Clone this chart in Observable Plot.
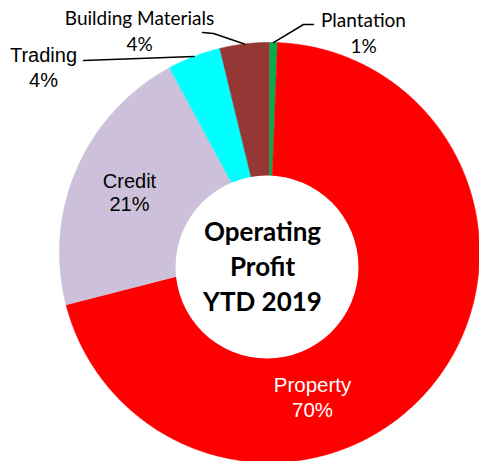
<!DOCTYPE html>
<html><head><meta charset="utf-8">
<script src="https://cdn.jsdelivr.net/npm/d3@7"></script>
<script src="https://cdn.jsdelivr.net/npm/@observablehq/plot@0.6"></script>
<style>html,body{margin:0;padding:0;background:#fff;}#chart{width:479px;height:461px;}</style>
</head><body><div id="chart"></div>
<script>
// ---- data ----
const segments = ["Plantation", "Property", "Credit", "Trading", "Building Materials"];
const shares = [0.6, 70.4, 21.1, 4.1, 3.8];
const shareLabels = ["1%", "70%", "21%", "4%", "4%"];
const colors = ["#00B050", "#FF0000", "#CCC0DA", "#00FFFF", "#953735"];
const centerTitle = ["Operating", "Profit", "YTD 2019"];

// ---- layout (pixels) ----
const W = 479, H = 461, CX = 269, CY = 252, R = 210;
const HOLE = {cx: 266.5, cy: 266.5, r: 91.5};
const px = (x) => x - CX, py = (y) => CY - y;
const labelLayout = {
  "Building Materials": {x: 139, y: 29, font: "Lato", size: 19, lh: 1.4, fill: "#000", elbow: [[202, 32], [213, 33]]},
  "Plantation": {x: 363, y: 31, font: "Lato", size: 19, lh: 1.35, fill: "#000", elbow: [[313, 24], [303, 24]]},
  "Trading": {x: 43, y: 66, font: "Liberation Sans", size: 20, lh: 1.25, fill: "#000", elbow: [[83, 60]]},
  "Credit": {x: 129, y: 192, font: "Liberation Sans", size: 20, lh: 1.15, fill: "#000"},
  "Property": {x: 312, y: 396, font: "Liberation Sans", size: 20.5, lh: 1.2, fill: "#fff"}
};

const rows = segments.map((name, i) => ({name, share: shares[i], label: shareLabels[i]}));
const arcs = d3.pie().sort(null).value(d => d.share)(rows);

// slice polygons (geometry derived from pie angles)
const polys = [];
for (const a of arcs) {
  const n = Math.max(2, Math.ceil((a.endAngle - a.startAngle) / (Math.PI / 360)));
  polys.push({name: a.data.name, x: 0, y: 0});
  for (let k = 0; k <= n; k++) {
    const t = a.startAngle + (a.endAngle - a.startAngle) * k / n;
    polys.push({name: a.data.name, x: R * Math.sin(t), y: R * Math.cos(t)});
  }
}

// leader lines
const leaders = [];
for (const a of arcs) {
  const L = labelLayout[a.data.name];
  if (!L.elbow) continue;
  const mid = (a.startAngle + a.endAngle) / 2;
  L.elbow.forEach(([ex, ey]) => leaders.push({name: a.data.name, x: px(ex), y: py(ey)}));
  leaders.push({name: a.data.name, x: R * Math.sin(mid), y: R * Math.cos(mid)});
}

const textMarks = rows.map(r => {
  const L = labelLayout[r.name];
  return Plot.text([r], {
    x: () => px(L.x), y: () => py(L.y),
    text: d => d.name + "\n" + d.label,
    fontFamily: L.font, fontSize: L.size, lineHeight: L.lh, fill: L.fill,
    textAnchor: "middle", lineAnchor: "middle"
  });
});

const chart = Plot.plot({
  width: W, height: H, margin: 0,
  x: {domain: [-CX, W - CX], axis: null},
  y: {domain: [CY - H, CY], axis: null},
  color: {domain: segments, range: colors},
  style: {background: "#fff", overflow: "visible"},
  marks: [
    Plot.line(polys, {x: "x", y: "y", z: "name", fill: "name", stroke: "name", strokeWidth: 0.6, curve: "linear"}),
    Plot.dot([HOLE], {x: d => px(d.cx), y: d => py(d.cy), r: HOLE.r, fill: "#fff", stroke: "none"}),
    Plot.line(leaders, {x: "x", y: "y", z: "name", stroke: "#000", strokeWidth: 1.5}),
    ...textMarks,
    Plot.text([centerTitle.join("\n")], {
      x: () => px(262), y: () => py(264), text: d => d,
      fontFamily: "Lato", fontWeight: "bold", fontSize: 26, lineHeight: 1.35, fill: "#000",
      textAnchor: "middle", lineAnchor: "middle"
    })
  ]
});
document.getElementById("chart").appendChild(chart);
</script>
</body></html>
